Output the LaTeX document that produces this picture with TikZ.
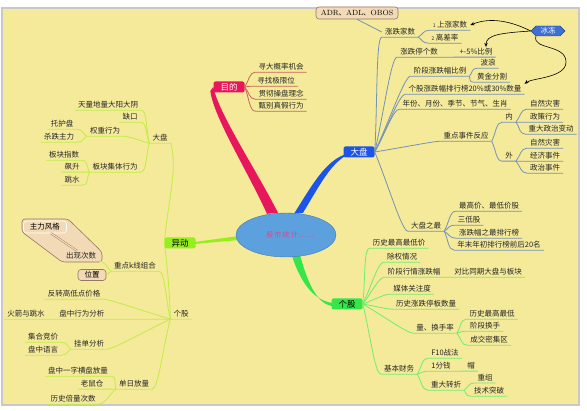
\documentclass[tikz,border=0pt]{standalone}
\usepackage{fontspec}
\newfontfamily\cjk{Noto Sans CJK SC}
\usepackage{tikz}
\usetikzlibrary{arrows.meta, calc, shapes.geometric, shapes.symbols, backgrounds}

\definecolor{bgyel}{RGB}{244,234,154}
\definecolor{framegray}{RGB}{200,200,200}
\definecolor{rootfill}{RGB}{92,160,222}
\definecolor{rootdraw}{RGB}{70,120,180}
\definecolor{roottxt}{RGB}{222,70,140}
\definecolor{mdred}{RGB}{232,22,92}
\definecolor{mdline}{RGB}{196,104,84}
\definecolor{dpblue}{RGB}{28,84,232}
\definecolor{dpline}{RGB}{118,146,184}
\definecolor{ggreen}{RGB}{52,230,72}
\definecolor{ggline}{RGB}{112,236,112}
\definecolor{ydgreen}{RGB}{150,238,30}
\definecolor{ydline}{RGB}{192,236,72}
\definecolor{notefill}{RGB}{242,218,182}
\definecolor{notedraw}{RGB}{150,120,100}
\definecolor{icefill}{RGB}{62,112,212}

\begin{document}
\begin{tikzpicture}[
    x=1pt, y=-1pt,
    font=\cjk\fontsize{7.5}{8}\selectfont,
    >={Stealth[length=4pt,width=3.5pt]},
    leaf/.style={inner xsep=3pt, inner ysep=1.5pt, text=black!85},
    topic/.style={rounded corners=2pt, minimum width=31pt, minimum height=11pt,
                  inner sep=1pt, font=\cjk\fontsize{8.5}{9}\selectfont},
    note/.style={draw=notedraw, fill=notefill, rounded corners=3pt,
                 inner sep=2pt, line width=0.6pt},
    ice/.style={signal, signal to=east and west, fill=icefill,
                draw=icefill!60!black, text=white, minimum width=34pt,
                minimum height=10pt, inner sep=1pt},
    mdl/.style={draw=mdline, line width=0.8pt},
    dpl/.style={draw=dpline, line width=0.8pt},
    ggl/.style={draw=ggline, line width=0.8pt},
    ydl/.style={draw=ydline, line width=0.8pt},
    bdarrow/.style={->, draw=black, line width=0.6pt},
    rto/.style={to path={.. controls ($(\tikztostart)!.4!(\tikztotarget)$)
                and ($(\tikztotarget)+(-#1,0)$) .. (\tikztotarget)}},
    rto/.default=6,
    lto/.style={to path={.. controls ($(\tikztostart)!.4!(\tikztotarget)$)
                and ($(\tikztotarget)+(#1,0)$) .. (\tikztotarget)}},
    lto/.default=6,
  ]

  \useasboundingbox (0,0) rectangle (587,411);

  %% --- page and frame ----------------------------------------------------
  \begin{scope}[on background layer]
    \fill[white] (0,0) rectangle (587,411);
    \draw[framegray, line width=2pt, fill=bgyel] (2,8) rectangle (579,405);
  \end{scope}

  %% --- centre and main topics --------------------------------------------
  \node[ellipse, draw=rootdraw, fill=rootfill, minimum width=100pt,
        minimum height=44pt, text=roottxt, font=\cjk\fontsize{7}{8}\selectfont]
        (root) at (286,235) {\hspace{8pt}股\,市\,统\,计\,……};

  \node[topic, fill=mdred, text=white] (mudi)   at (229,87)  {目的};
  \node[topic, fill=dpblue, text=white] (dapan) at (359,152) {大盘};
  \node[topic, fill=ggreen]  (gegu)   at (347,304) {个股};
  \node[topic, fill=ydgreen] (yidong) at (180,243) {异动};

  %% --- 目的 --------------------------------------------------------------
  \node[leaf] (md1) at (281,67)  {寻大概率机会};
  \node[leaf] (md2) at (276,81)  {寻找极限位};
  \node[leaf] (md3) at (281,94)  {贯彻操盘理念};
  \node[leaf] (md4) at (281,106) {甄别真假行为};

  %% --- 大盘 --------------------------------------------------------------
  \node[note, minimum width=82pt, minimum height=12pt, inner sep=1pt] (adr) at (357,13)
        {{\rmfamily ADR}、{\rmfamily ADL}、{\rmfamily OBOS}};
  \node[leaf] (zd)   at (400,32)  {涨跌家数};
  \node[leaf] (zd1)  at (450,25)  {{\fontsize{5}{5}\selectfont 1}~上涨家数};
  \node[leaf] (zd2)  at (445,38)  {{\fontsize{5}{5}\selectfont 2}~离差率};
  \node[ice]  (bd)   at (548,31)  {冰冻};
  \node[leaf] (zt)   at (419,52)  {涨跌停个数};
  \node[leaf] (zt1)  at (476,52)  {+-5\%比例};
  \node[leaf] (jd)   at (440,71)  {阶段涨跌幅比例};
  \node[leaf] (jd1)  at (488,63)  {波浪};
  \node[leaf] (jd2)  at (492,77)  {黄金分割};
  \node[leaf] (pm)   at (465,89)  {个股涨跌幅排行榜20\%或30\%数量};
  \node[leaf] (nf)   at (455,104) {年份、月份、季节、节气、生肖};
  \node[leaf] (zdsj) at (466,136) {重点事件反应};
  \node[leaf] (nei)  at (509,117) {内};
  \node[leaf] (wai)  at (509,156) {外};
  \node[leaf] (nei1) at (545,104) {自然灾害};
  \node[leaf] (nei2) at (545,117) {政策行为};
  \node[leaf] (nei3) at (551,129) {重大政治变动};
  \node[leaf] (wai1) at (545,143) {自然灾害};
  \node[leaf] (wai2) at (545,156) {经济事件};
  \node[leaf] (wai3) at (545,168) {政治事件};
  \node[leaf] (dpz)  at (426,226) {大盘之最};
  \node[leaf] (dpz1) at (489,206) {最高价、最低价股};
  \node[leaf] (dpz2) at (469,220) {三低股};
  \node[leaf] (dpz3) at (489,233) {涨跌幅之最排行榜};
  \node[leaf] (dpz4) at (499,245) {年末年初排行榜前后20名};

  %% --- 个股 --------------------------------------------------------------
  \node[leaf] (gg1)   at (399,243) {历史最高最低价};
  \node[leaf] (gg2)   at (402,257) {除权情况};
  \node[leaf] (gg3)   at (414,272) {阶段行情涨跌幅};
  \node[leaf] (gg31)  at (488,272) {对比同期大盘与板块};
  \node[leaf] (gg4)   at (412,289) {媒体关注度};
  \node[leaf] (gg5)   at (426,304) {历史涨跌停板数量};
  \node[leaf] (gg6)   at (435,328) {量、换手率};
  \node[leaf] (gg61)  at (492,314) {历史最高最低};
  \node[leaf] (gg62)  at (485,326) {阶段换手};
  \node[leaf] (gg63)  at (489,340) {成交密集区};
  \node[leaf] (gg7)   at (399,369) {基本财务};
  \node[leaf] (gg71)  at (445,353) {F10战法};
  \node[leaf] (gg72)  at (441,366) {1分钱};
  \node[leaf] (gg73)  at (471,366) {帽};
  \node[leaf] (gg74)  at (446,385) {重大转折};
  \node[leaf] (gg741) at (485,378) {重组};
  \node[leaf] (gg742) at (489,391) {技术突破};

  %% --- 异动 (left side) --------------------------------------------------
  \node[leaf] (ydp)  at (160,138) {大盘};
  \node[leaf] (ydp1) at (108,105) {天量地量大阳大阴};
  \node[leaf] (ydp2) at (130,117) {缺口};
  \node[leaf] (ydp3) at (105,131) {权重行为};
  \node[leaf] (ydp31) at (62,124) {托护盘};
  \node[leaf] (ydp32) at (59,137) {杀跌主力};
  \node[leaf] (ydp4) at (115,167) {板块集体行为};
  \node[leaf] (ydp41) at (64,155) {板块指数};
  \node[leaf] (ydp42) at (72,167) {飙升};
  \node[leaf] (ydp43) at (72,180) {跳水};

  % callout body behind 主力风格 / 出现次数
  \draw[notedraw, fill=notefill, line width=0.6pt, rounded corners=3pt]
        (22,219) -- (68,219) -- (102,252) -- (102,262) -- (62,262) -- (22,232) -- cycle;

  \node[leaf] (ygg)  at (181,314) {个股};
  \node[leaf] (ygg1) at (135,266) {重点k线组合};
  \node[note, draw=white, minimum width=43pt, minimum height=12pt, inner sep=1pt]
        (zlfg) at (45,227) {主力风格};
  \node[leaf] (cxcs) at (81,256) {出现次数};
  \node[note, minimum width=28pt, minimum height=11pt, inner sep=1pt]
        (wz) at (92,275) {位置};
  \node[leaf] (ygg2)  at (74,294)  {反转高低点价格};
  \node[leaf] (ygg3)  at (82,314)  {盘中行为分析};
  \node[leaf] (ygg31) at (26,314)  {火箭与跳水};
  \node[leaf] (ygg4)  at (89,344)  {挂单分析};
  \node[leaf] (ygg41) at (43,337)  {集合竞价};
  \node[leaf] (ygg42) at (43,350)  {盘中语言};
  \node[leaf] (ygg5)  at (134,384) {单日放量};
  \node[leaf] (ygg51) at (78,371)  {盘中一字横盘放量};
  \node[leaf] (ygg52) at (92,384)  {老鼠仓};
  \node[leaf] (ygg53) at (73,399)  {历史倍量次数};

  %% --- connectors: 目的 --------------------------------------------------
  \draw[mdl] (mudi.east) to[rto] (md1.south west) -- (md1.south east);
  \draw[mdl] (mudi.east) to[rto] (md2.south west) -- (md2.south east);
  \draw[mdl] (mudi.east) to[rto] (md3.south west) -- (md3.south east);
  \draw[mdl] (mudi.east) to[rto] (md4.south west) -- (md4.south east);

  %% --- connectors: 大盘 --------------------------------------------------
  \draw[dpl] (dapan.east) to[rto] (zd.south west) -- (zd.south east);
  \draw[dpl] (zd.south east) to[rto] (zd1.south west) -- (zd1.south east);
  \draw[dpl] (zd.south east) to[rto] (zd2.south west) -- (zd2.south east);
  \draw[dpl] (adr.south) -- (zd.west);
  \draw[dpl] (dapan.east) to[rto] (zt.south west) -- (zt.south east)
             -- (zt1.south west) -- (zt1.south east);
  \draw[dpl] (dapan.east) to[rto] (jd.south west) -- (jd.south east);
  \draw[dpl] (jd.south east) to[rto] (jd1.south west) -- (jd1.south east);
  \draw[dpl] (jd.south east) to[rto] (jd2.south west) -- (jd2.south east);
  \draw[dpl] (dapan.east) to[rto] (pm.south west) -- (pm.south east);
  \draw[dpl] (dapan.east) to[rto] (nf.south west) -- (nf.south east);
  \draw[dpl] (dapan.east) to[rto] (zdsj.south west) -- (zdsj.south east);
  \draw[dpl] (zdsj.south east) to[rto] (nei.south west) -- (nei.south east);
  \draw[dpl] (zdsj.south east) to[rto] (wai.south west) -- (wai.south east);
  \draw[dpl] (nei.south east) to[rto] (nei1.south west) -- (nei1.south east);
  \draw[dpl] (nei.south east) to[rto] (nei2.south west) -- (nei2.south east);
  \draw[dpl] (nei.south east) to[rto] (nei3.south west) -- (nei3.south east);
  \draw[dpl] (wai.south east) to[rto] (wai1.south west) -- (wai1.south east);
  \draw[dpl] (wai.south east) to[rto] (wai2.south west) -- (wai2.south east);
  \draw[dpl] (wai.south east) to[rto] (wai3.south west) -- (wai3.south east);
  \draw[dpl] (dapan.east) to[rto] (dpz.south west) -- (dpz.south east);
  \draw[dpl] (dpz.south east) to[rto] (dpz1.south west) -- (dpz1.south east);
  \draw[dpl] (dpz.south east) to[rto] (dpz2.south west) -- (dpz2.south east);
  \draw[dpl] (dpz.south east) to[rto] (dpz3.south west) -- (dpz3.south east);
  \draw[dpl] (dpz.south east) to[rto] (dpz4.south west) -- (dpz4.south east);

  % 冰冻 arrows
  \draw[bdarrow] (bd.west) .. controls +(-20,-10) and +(20,-8) .. (zd1.east);
  \draw[bdarrow] (bd.west) .. controls +(-30,2) and +(0,-12) .. ($(zt1.north)+(10,0)$);
  \draw[bdarrow] (bd.south west) .. controls (532,50) and (566,44) .. (566,62)
                 .. controls (566,78) and (532,78) .. (pm.north east);

  %% --- connectors: 个股 --------------------------------------------------
  \draw[ggl] (gegu.east) to[rto] (gg1.south west) -- (gg1.south east);
  \draw[ggl] (gegu.east) to[rto] (gg2.south west) -- (gg2.south east);
  \draw[ggl] (gegu.east) to[rto] (gg3.south west) -- (gg3.south east)
             -- (gg31.south west) -- (gg31.south east);
  \draw[ggl] (gegu.east) to[rto] (gg4.south west) -- (gg4.south east);
  \draw[ggl] (gegu.east) to[rto] (gg5.south west) -- (gg5.south east);
  \draw[ggl] (gegu.east) to[rto] (gg6.south west) -- (gg6.south east);
  \draw[ggl] (gg6.south east) to[rto] (gg61.south west) -- (gg61.south east);
  \draw[ggl] (gg6.south east) to[rto] (gg62.south west) -- (gg62.south east);
  \draw[ggl] (gg6.south east) to[rto] (gg63.south west) -- (gg63.south east);
  \draw[ggl] (gegu.east) to[rto] (gg7.south west) -- (gg7.south east);
  \draw[ggl] (gg7.south east) to[rto] (gg71.south west) -- (gg71.south east);
  \draw[ggl] (gg7.south east) to[rto] (gg72.south west) -- (gg72.south east)
             -- (gg73.south west) -- (gg73.south east);
  \draw[ggl] (gg7.south east) to[rto] (gg74.south west) -- (gg74.south east);
  \draw[ggl] (gg74.south east) to[rto] (gg741.south west) -- (gg741.south east);
  \draw[ggl] (gg74.south east) to[rto] (gg742.south west) -- (gg742.south east);

  %% --- connectors: 异动 --------------------------------------------------
  \draw[ydl] (yidong.west) .. controls (168,200) and (178,170) .. (ydp.south east)
             -- (ydp.south west);
  \draw[ydl] (ydp.south west) to[lto] (ydp1.south east) -- (ydp1.south west);
  \draw[ydl] (ydp.south west) to[lto] (ydp2.south east) -- (ydp2.south west);
  \draw[ydl] (ydp.south west) to[lto] (ydp3.south east) -- (ydp3.south west);
  \draw[ydl] (ydp3.south west) to[lto] (ydp31.south east) -- (ydp31.south west);
  \draw[ydl] (ydp3.south west) to[lto] (ydp32.south east) -- (ydp32.south west);
  \draw[ydl] (ydp.south west) to[lto] (ydp4.south east) -- (ydp4.south west);
  \draw[ydl] (ydp4.south west) to[lto] (ydp41.south east) -- (ydp41.south west);
  \draw[ydl] (ydp4.south west) to[lto] (ydp42.south east) -- (ydp42.south west);
  \draw[ydl] (ydp4.south west) to[lto] (ydp43.south east) -- (ydp43.south west);

  \draw[ydl] (yidong.west) .. controls (168,270) and (170,300) .. (ygg.south west)
             -- (ygg.south east);
  \draw[ydl] (ygg.south west) to[lto] (ygg1.south east) -- (ygg1.south west);
  \draw[ydl] (ygg1.south west) to[lto] (cxcs.south east);
  \draw[ydl] (ygg1.south west) -- (wz.east);
  \draw[notedraw, double=notefill, double distance=1.2pt, line width=0.4pt]
        ($(zlfg.south)+(6,0)$) -- ($(cxcs.north)+(-4,0)$);
  \draw[ydl] (ygg.south west) to[lto] (ygg2.south east) -- (ygg2.south west);
  \draw[ydl] (ygg.south west) to[lto] (ygg3.south east) -- (ygg3.south west)
             -- (ygg31.south east) -- (ygg31.south west);
  \draw[ydl] (ygg.south west) to[lto] (ygg4.south east) -- (ygg4.south west);
  \draw[ydl] (ygg4.south west) to[lto] (ygg41.south east) -- (ygg41.south west);
  \draw[ydl] (ygg4.south west) to[lto] (ygg42.south east) -- (ygg42.south west);
  \draw[ydl] (ygg.south west) to[lto] (ygg5.south east) -- (ygg5.south west);
  \draw[ydl] (ygg5.south west) to[lto] (ygg51.south east) -- (ygg51.south west);
  \draw[ydl] (ygg5.south west) to[lto] (ygg52.south east) -- (ygg52.south west);
  \draw[ydl] (ygg5.south west) to[lto] (ygg53.south east) -- (ygg53.south west);

  %% --- tapered main branches (behind the centre) -------------------------
  \begin{scope}[on background layer]
    \fill[mdred] ($(root.north)+(-19,1)$) .. controls (246,168) and (214,118)
                 .. ($(mudi.west)+(-3,4)$) -- (mudi.west)
                 .. controls (219,114) and (254,166) .. ($(root.north)+(-8,0)$) -- cycle;
    \fill[dpblue] ($(root.north)+(8,1)$) .. controls (312,185) and (325,162)
                  .. ($(dapan.south west)+(1,-3)$) -- ($(dapan.south west)+(1,-1)$)
                  .. controls (329,166) and (317,190) .. ($(root.north)+(17,0)$) -- cycle;
    \fill[ggreen] ($(root.south)+(6,-1)$) .. controls (300,280) and (312,300)
                  .. ($(gegu.west)+(1,-1)$) -- ($(gegu.west)+(1,2)$)
                  .. controls (316,304) and (307,280) .. ($(root.south)+(14,-2)$) -- cycle;
    \fill[ydgreen] ($(root.west)+(3,1)$) -- ($(yidong.east)+(-1,-1)$)
                   -- ($(yidong.east)+(-1,1)$) -- ($(root.west)+(3,5)$) -- cycle;
  \end{scope}

\end{tikzpicture}
\end{document}
